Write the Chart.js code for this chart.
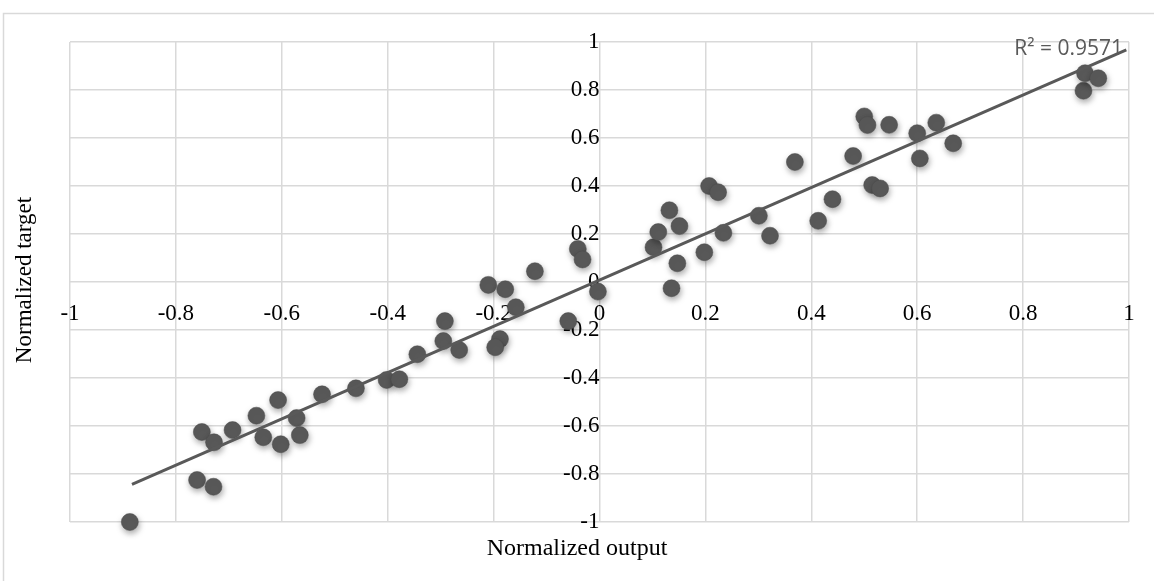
<!DOCTYPE html>
<html>
<head>
<meta charset="utf-8">
<script src="https://cdn.jsdelivr.net/npm/chart.js@4"></script>
<style>
  html, body { margin: 0; padding: 0; background: #fff; }
  #wrap { position: relative; width: 1154px; height: 581px; }
</style>
</head>
<body>
<div id="wrap"><canvas id="scatterChart"></canvas></div>
<script>
// --- data ---
const outputValues = [
  -0.887, -0.760, -0.729, -0.751, -0.728, -0.693, -0.648, -0.635, -0.607, -0.602,
  -0.572, -0.566, -0.524, -0.460, -0.402, -0.378, -0.344, -0.292, -0.295, -0.265,
  -0.210, -0.178, -0.158, -0.188, -0.197, -0.122, -0.059, -0.003, -0.041, -0.032,
   0.102,  0.111,  0.132,  0.136,  0.147,  0.151,  0.198,  0.207,  0.224,  0.234,
   0.301,  0.322,  0.369,  0.413,  0.440,  0.479,  0.500,  0.506,  0.515,  0.530,
   0.547,  0.600,  0.605,  0.636,  0.668,  0.914,  0.917,  0.942
];
const targetValues = [
  -1.000, -0.825, -0.853, -0.625, -0.668, -0.617, -0.557, -0.647, -0.492, -0.676,
  -0.567, -0.638, -0.468, -0.443, -0.408, -0.405, -0.301, -0.163, -0.246, -0.283,
  -0.012, -0.030, -0.105, -0.238, -0.272,  0.045, -0.163, -0.040,  0.138,  0.094,
   0.145,  0.208,  0.299, -0.026,  0.078,  0.233,  0.124,  0.400,  0.374,  0.205,
   0.276,  0.193,  0.500,  0.255,  0.345,  0.525,  0.690,  0.654,  0.404,  0.390,
   0.655,  0.620,  0.515,  0.664,  0.578,  0.797,  0.870,  0.849
];
const trendX = [-0.883, 0.995];
const trendY = [-0.843, 0.967];
const axisTicks = [-1, -0.8, -0.6, -0.4, -0.2, 0, 0.2, 0.4, 0.6, 0.8, 1];
const rSquaredText = 'R² = 0.9571';
const xTitle = 'Normalized output';
const yTitle = 'Normalized target';

const points = outputValues.map((x, i) => ({ x: x, y: targetValues[i] }));
const trendPoints = trendX.map((x, i) => ({ x: x, y: trendY[i] }));

const serif = '"Liberation Serif", "Times New Roman", serif';

// soft drop shadow under the markers
const shadowPlugin = {
  id: 'markerShadow',
  beforeDatasetDraw(chart, args) {
    if (args.index !== 0) return;
    const ctx = chart.ctx;
    ctx.save();
    ctx.shadowColor = 'rgba(0,0,0,0.35)';
    ctx.shadowBlur = 6;
    ctx.shadowOffsetX = 1;
    ctx.shadowOffsetY = 3;
  },
  afterDatasetDraw(chart, args) {
    if (args.index !== 0) return;
    chart.ctx.restore();
  }
};

// outer frame, axis titles and R² label
const decorPlugin = {
  id: 'decor',
  beforeDraw(chart) {
    const ctx = chart.ctx;
    ctx.save();
    ctx.strokeStyle = '#d9d9d9';
    ctx.lineWidth = 1.5;
    ctx.strokeRect(3.5, 13.5, 1300, 700);
    ctx.restore();
  },
  afterDraw(chart) {
    const ctx = chart.ctx;
    const area = chart.chartArea;
    ctx.save();
    ctx.fillStyle = '#000';
    ctx.textAlign = 'center';
    ctx.textBaseline = 'middle';
    ctx.font = '24px ' + serif;
    ctx.fillText(xTitle, 577, 549);
    ctx.font = '23px ' + serif;
    ctx.translate(25, 280);
    ctx.rotate(-Math.PI / 2);
    ctx.fillText(yTitle, 0, 0);
    ctx.restore();

    ctx.save();
    ctx.fillStyle = '#595959';
    ctx.font = '21px "Open Sans", "Liberation Sans", sans-serif';
    ctx.textAlign = 'right';
    ctx.textBaseline = 'middle';
    ctx.fillText(rSquaredText, 1123, 49);
    ctx.restore();
  }
};

const fixedTicks = scale => {
  scale.ticks = axisTicks.map(v => ({ value: v }));
};
const fmt = v => String(+v.toFixed(1));

new Chart(document.getElementById('scatterChart').getContext('2d'), {
  type: 'scatter',
  data: {
    datasets: [
      {
        data: points,
        backgroundColor: '#595959',
        borderColor: '#4a4a4a',
        borderWidth: 0.5,
        pointRadius: 8.5,
        pointHoverRadius: 8.5,
        clip: false,
        order: 1
      },
      {
        type: 'line',
        data: trendPoints,
        borderColor: '#595959',
        borderWidth: 3,
        pointRadius: 0,
        fill: false,
        clip: false,
        order: 0
      }
    ]
  },
  options: {
    responsive: true,
    maintainAspectRatio: false,
    animation: false,
    layout: { padding: { left: 70, top: 42, right: 25, bottom: 59 } },
    plugins: { legend: { display: false }, tooltip: { enabled: false } },
    scales: {
      x: {
        type: 'linear',
        min: -1, max: 1,
        position: { y: 0 },
        afterBuildTicks: fixedTicks,
        grid: { color: '#d9d9d9', lineWidth: 1.5, drawTicks: false },
        border: { display: false },
        ticks: {
          color: '#000',
          font: { family: serif, size: 23 },
          padding: 18,
          maxRotation: 0,
          autoSkip: false,
          callback: fmt
        }
      },
      y: {
        type: 'linear',
        min: -1, max: 1,
        position: { x: 0 },
        afterBuildTicks: fixedTicks,
        grid: { color: '#d9d9d9', lineWidth: 1.5, drawTicks: false },
        border: { display: false },
        ticks: {
          color: '#000',
          font: { family: serif, size: 23 },
          padding: 21,
          autoSkip: false,
          callback: fmt
        }
      }
    }
  },
  plugins: [shadowPlugin, decorPlugin]
});
</script>
</body>
</html>
